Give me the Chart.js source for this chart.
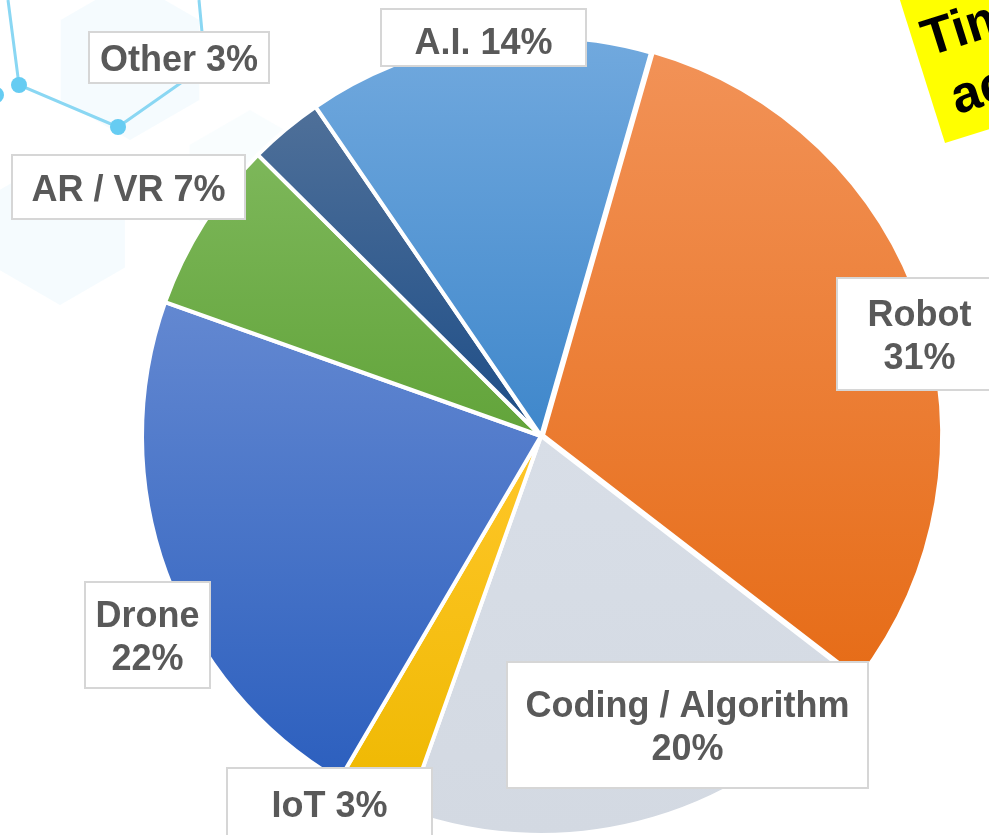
<!DOCTYPE html>
<html>
<head>
<meta charset="utf-8">
<script src="https://cdn.jsdelivr.net/npm/chart.js@4.4.1/dist/chart.umd.min.js"></script>
<style>
body{margin:0;background:#fff;}
#container{position:relative;width:989px;height:835px;overflow:hidden;}
#zone{position:absolute;left:0;top:0;width:989px;height:860px;}
</style>
</head>
<body>
<div id="container"><div id="zone"><canvas id="graphe"></canvas></div></div>
<script>
const categories=["Robot","Coding / Algorithm","IoT","Drone","AR / VR","Other","A.I."];
const valeurs=[31,20,3,22,7,3,14];
const etiquettes=["Robot\n31%","Coding / Algorithm\n20%","IoT 3%","Drone\n22%","AR / VR 7%","Other 3%","A.I. 14%"];
const couleursHaut=["#f29257","#d8dee7","#ffc72a","#6388d1","#7db75a","#4f7099","#71a9de"];
const couleursBas=["#e66c17","#d3d9e2","#eeb800","#2c5fbe","#62a43a","#1d4d87","#3f87cb"];
// label boxes, relative to pie center : x, y, w, h
const boites=[[296,-158,165,112],[-34,226,361,126],[-314,332,205,90],[-456,146,125,106],[-529,-281,233,64],[-452,-404,180,51],[-160,-427,205,57]];
const rayon=399;
const rotationDeg=16;
const police='bold 36px "Liberation Sans", Arial, sans-serif';

let total=valeurs.reduce((a,b)=>a+b,0);

function degrade(c){
    if(c.type!=='data') return '#ccc';
    let ca=c.chart.chartArea;
    if(!ca) return couleursHaut[c.dataIndex];
    let cx=(ca.left+ca.right)/2, cy=(ca.top+ca.bottom)/2;
    let i=c.dataIndex;
    let avant=0;
    for(let k=0;k<i;k++) avant+=valeurs[k];
    let a0=(rotationDeg-90)*Math.PI/180+avant/total*2*Math.PI;
    let a1=a0+valeurs[i]/total*2*Math.PI;
    let ymin=cy, ymax=cy;
    for(let s=0;s<=60;s++){
        let a=a0+(a1-a0)*s/60;
        let y=cy+rayon*Math.sin(a);
        if(y<ymin) ymin=y;
        if(y>ymax) ymax=y;
    }
    let g=c.chart.ctx.createLinearGradient(0,ymin,0,ymax);
    g.addColorStop(0,couleursHaut[i]);
    g.addColorStop(1,couleursBas[i]);
    return g;
}

const fond={
    id:'fond',
    beforeDraw(chart){
        let ctx=chart.ctx;
        ctx.save();
        ctx.fillStyle='rgba(215,240,250,0.25)';
        hexa(ctx,130,60,80);
        hexa(ctx,60,230,75);
        ctx.fillStyle='rgba(215,240,250,0.15)';
        hexa(ctx,250,180,70);
        ctx.strokeStyle='#8ad7f3';
        ctx.lineWidth=3;
        ctx.beginPath();
        ctx.moveTo(8,0);ctx.lineTo(19,85);ctx.lineTo(118,127);ctx.lineTo(185,80);
        ctx.moveTo(199,0);ctx.lineTo(202,32);
        ctx.stroke();
        ctx.fillStyle='#66ccf2';
        [[19,85],[118,127],[-4,95]].forEach(p=>{
            ctx.beginPath();ctx.arc(p[0],p[1],8,0,2*Math.PI);ctx.fill();
        });
        ctx.restore();
    }
};
function hexa(ctx,x,y,r){
    ctx.beginPath();
    for(let k=0;k<6;k++){
        let a=Math.PI/6+k*Math.PI/3;
        if(k==0) ctx.moveTo(x+r*Math.cos(a),y+r*Math.sin(a));
        else ctx.lineTo(x+r*Math.cos(a),y+r*Math.sin(a));
    }
    ctx.closePath();
    ctx.fill();
}

const etiquettePlugin={
    id:'etiquettes',
    afterDatasetsDraw(chart){
        let ctx=chart.ctx;
        let arc=chart.getDatasetMeta(0).data[1];
        let cx=arc.x, cy=arc.y;
        ctx.save();
        ctx.font=police;
        ctx.textAlign='center';
        ctx.textBaseline='middle';
        etiquettes.forEach((t,i)=>{
            let b=boites[i];
            let x=cx+b[0], y=cy+b[1];
            ctx.fillStyle='#fff';
            ctx.fillRect(x,y,b[2],b[3]);
            ctx.strokeStyle='#d6d6d6';
            ctx.lineWidth=2;
            ctx.strokeRect(x,y,b[2],b[3]);
            let lignes=t.split('\n');
            ctx.fillStyle='#595959';
            let hy=y+b[3]/2-(lignes.length-1)*21.5+4;
            if(i==2) hy=y+39;
            if(i==6) hy+=3;
            lignes.forEach((l,j)=>{
                ctx.fillText(l,x+b[2]/2,hy+j*43);
            });
        });
        // yellow note top right
        ctx.translate(945,143);
        ctx.rotate(-17.5*Math.PI/180);
        ctx.fillStyle='#ffff00';
        ctx.fillRect(0,-220,220,220);
        ctx.fillStyle='#000';
        ctx.font='bold 52px "Liberation Sans", Arial, sans-serif';
        ctx.textAlign='left';
        ctx.fillText('Tim',10,-102);
        ctx.fillText('ac',20,-38);
        ctx.restore();
    }
};

var graphe=new Chart(document.getElementById('graphe'),{
    type:'pie',
    data:{
        labels:categories,
        datasets:[{
            data:valeurs,
            backgroundColor:degrade,
            borderColor:'#ffffff',
            borderWidth:4,
            offset:[8,0,0,0,0,0,0],
            radius:rayon
        }]
    },
    options:{
        responsive:true,
        maintainAspectRatio:false,
        animation:false,
        rotation:rotationDeg,
        layout:{padding:{left:136,right:43,top:31,bottom:19}},
        plugins:{
            legend:{display:false},
            tooltip:{enabled:false}
        }
    },
    plugins:[fond,etiquettePlugin]
});
</script>
</body>
</html>
